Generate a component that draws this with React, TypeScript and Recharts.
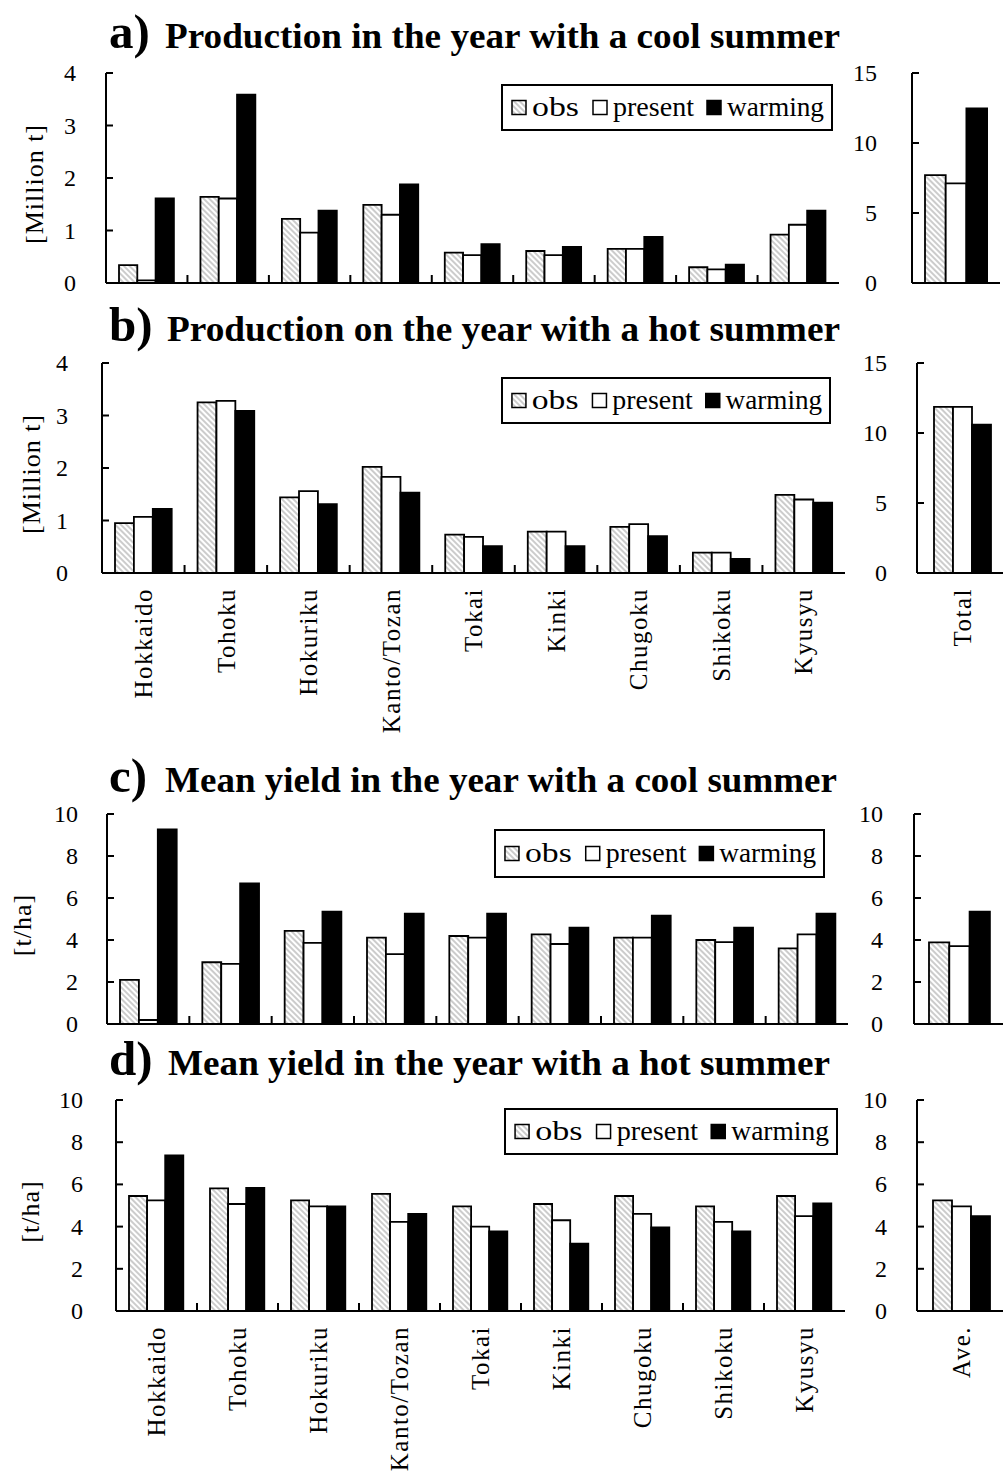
import React from "react";
import { BarChart, Bar, XAxis, YAxis, Legend } from "recharts";

const FONT = '"Liberation Serif", "Times New Roman", serif';

const regions = [
  "Hokkaido",
  "Tohoku",
  "Hokuriku",
  "Kanto/Tozan",
  "Tokai",
  "Kinki",
  "Chugoku",
  "Shikoku",
  "Kyusyu",
];

// a) production, cool summer [Million t]; side values are the national total
const prodCoolObs = [0.34, 1.64, 1.22, 1.49, 0.58, 0.61, 0.65, 0.3, 0.92];
const prodCoolPresent = [0.05, 1.61, 0.96, 1.3, 0.53, 0.53, 0.65, 0.26, 1.11];
const prodCoolWarming = [1.61, 3.59, 1.38, 1.88, 0.74, 0.69, 0.88, 0.35, 1.38];
const prodCoolTotal = [7.71, 7.12, 12.48];

// b) production, hot summer [Million t]
const prodHotObs = [0.95, 3.25, 1.44, 2.02, 0.73, 0.79, 0.88, 0.39, 1.49];
const prodHotPresent = [1.07, 3.28, 1.56, 1.83, 0.69, 0.79, 0.93, 0.39, 1.4];
const prodHotWarming = [1.22, 3.09, 1.31, 1.53, 0.51, 0.51, 0.7, 0.27, 1.34];
const prodHotTotal = [11.86, 11.86, 10.6];

// c) mean yield, cool summer [t/ha]; side values are the national average
const yieldCoolObs = [2.1, 2.94, 4.43, 4.11, 4.19, 4.27, 4.11, 4.0, 3.6];
const yieldCoolPresent = [0.19, 2.86, 3.86, 3.33, 4.11, 3.81, 4.11, 3.9, 4.27];
const yieldCoolWarming = [9.27, 6.7, 5.35, 5.25, 5.25, 4.59, 5.16, 4.59, 5.25];
const yieldCoolAve = [3.89, 3.71, 5.35];

// d) mean yield, hot summer [t/ha]
const yieldHotObs = [5.45, 5.81, 5.24, 5.55, 4.96, 5.07, 5.45, 4.96, 5.45];
const yieldHotPresent = [5.24, 5.07, 4.96, 4.22, 4.0, 4.3, 4.6, 4.22, 4.5];
const yieldHotWarming = [7.37, 5.83, 4.96, 4.6, 3.77, 3.19, 3.96, 3.77, 5.1];
const yieldHotAve = [5.24, 4.96, 4.5];

const prodTicks = [0, 1, 2, 3, 4];
const prodTotalTicks = [0, 5, 10, 15];
const yieldTicks = [0, 2, 4, 6, 8, 10];

const seriesNames = ["obs", "present", "warming"];

const toRows = (obs: number[], present: number[], warming: number[]) =>
  regions.map((region, i) => ({
    region,
    obs: obs[i],
    present: present[i],
    warming: warming[i],
  }));

const toSide = (label: string, v: number[]) => [
  { region: label, obs: v[0], present: v[1], warming: v[2] },
];

const PAD = 20;

const panels = [
  {
    letter: "a)",
    title: "Production in the year with a cool summer",
    titleY: 48,
    titleX: 165,
    titleEnd: 840,
    yLabel: "[Million t]",
    yLabelX: 34,
    rows: toRows(prodCoolObs, prodCoolPresent, prodCoolWarming),
    side: toSide("Total", prodCoolTotal),
    yMax: 4,
    yTicks: prodTicks,
    sideMax: 15,
    sideTicks: prodTotalTicks,
    plot: { l: 106, r: 839, t: 73, b: 283 },
    sidePlot: { l: 912, r: 1000 },
    yGap: 30,
    sideGap: 35,
    barSize: 18.3,
    sideBarSize: 20.7,
    legend: { x: 501, y: 84, w: 332, h: 47 },
    labels: false,
  },
  {
    letter: "b)",
    title: "Production on the year with a hot summer",
    titleY: 341,
    titleX: 167,
    titleEnd: 840,
    yLabel: "[Million t]",
    yLabelX: 31,
    rows: toRows(prodHotObs, prodHotPresent, prodHotWarming),
    side: toSide("Total", prodHotTotal),
    yMax: 4,
    yTicks: prodTicks,
    sideMax: 15,
    sideTicks: prodTotalTicks,
    plot: { l: 102, r: 845, t: 363, b: 573 },
    sidePlot: { l: 917, r: 1008 },
    yGap: 34,
    sideGap: 30,
    barSize: 18.9,
    sideBarSize: 19,
    legend: { x: 501, y: 377, w: 330, h: 47 },
    labels: true,
  },
  {
    letter: "c)",
    title: "Mean yield in the year with a cool summer",
    titleY: 792,
    titleX: 165,
    titleEnd: 837,
    yLabel: "[t/ha]",
    yLabelX: 22,
    rows: toRows(yieldCoolObs, yieldCoolPresent, yieldCoolWarming),
    side: toSide("Ave.", yieldCoolAve),
    yMax: 10,
    yTicks: yieldTicks,
    sideMax: 10,
    sideTicks: yieldTicks,
    plot: { l: 107, r: 848, t: 814, b: 1024 },
    sidePlot: { l: 914, r: 1005 },
    yGap: 29,
    sideGap: 31,
    barSize: 18.9,
    sideBarSize: 20.3,
    legend: { x: 494, y: 829, w: 331, h: 49 },
    labels: false,
  },
  {
    letter: "d)",
    title: "Mean yield in the year with a hot summer",
    titleY: 1075,
    titleX: 168,
    titleEnd: 830,
    yLabel: "[t/ha]",
    yLabelX: 30,
    rows: toRows(yieldHotObs, yieldHotPresent, yieldHotWarming),
    side: toSide("Ave.", yieldHotAve),
    yMax: 10,
    yTicks: yieldTicks,
    sideMax: 10,
    sideTicks: yieldTicks,
    plot: { l: 116, r: 845, t: 1100, b: 1311 },
    sidePlot: { l: 917, r: 1006 },
    yGap: 33,
    sideGap: 30,
    barSize: 18.1,
    sideBarSize: 19,
    legend: { x: 504, y: 1108, w: 334, h: 47 },
    labels: true,
  },
];

const fills: Record<string, string> = {
  obs: "url(#hatch)",
  present: "#ffffff",
  warming: "#000000",
};

// value ticks: label on the left, short tick pointing into the plot
const YTick = ({ y, payload, axisX, gap }: any) => (
  <g>
    <line x1={axisX} x2={axisX + 7} y1={y} y2={y} stroke="#000" strokeWidth={2} />
    <text
      x={axisX - gap}
      y={y}
      textAnchor="end"
      dominantBaseline="central"
      fontFamily={FONT}
      fontSize={24}
      fill="#000"
    >
      {payload.value}
    </text>
  </g>
);

// category ticks: separators between groups, names written bottom-to-top
const XTick = ({ x, index, payload, axisY, band, count, showLabel }: any) => (
  <g>
    {index < count - 1 && (
      <line
        x1={x + band / 2}
        x2={x + band / 2}
        y1={axisY}
        y2={axisY - 8}
        stroke="#000"
        strokeWidth={2}
      />
    )}
    {showLabel && (
      <text
        x={x}
        y={axisY + 15}
        dy="0.35em"
        transform={`rotate(-90 ${x} ${axisY + 15})`}
        textAnchor="end"
        fontFamily={FONT}
        fontSize={25}
        letterSpacing={1.5}
        fill="#000"
      >
        {payload.value}
      </text>
    )}
  </g>
);

const legendItems = [
  { key: "obs", sq: 11, tx: 31, tl: 47 },
  { key: "present", sq: 92, tx: 112, tl: 81 },
  { key: "warming", sq: 206, tx: 226, tl: 97 },
];

const LegendBox = ({ w, h }: { w: number; h: number }) => {
  const k = w / 332;
  return (
    <svg width={w} height={h} style={{ display: "block" }}>
      <rect x={1} y={1} width={w - 2} height={h - 2} fill="#fff" stroke="#000" strokeWidth={2} />
      {legendItems.map((it) => (
        <g key={it.key}>
          <rect
            x={it.sq * k}
            y={h / 2 - 7}
            width={14}
            height={14}
            fill={fills[it.key]}
            stroke="#000"
            strokeWidth={1.5}
          />
          <text
            x={it.tx * k}
            y={h / 2 + 8}
            textLength={it.tl * k}
            lengthAdjust="spacingAndGlyphs"
            fontFamily={FONT}
            fontSize={27}
            fill="#000"
          >
            {it.key}
          </text>
        </g>
      ))}
    </svg>
  );
};

const Panel = ({ cfg }: { cfg: (typeof panels)[number] }) => {
  const { plot, sidePlot } = cfg;
  const plotH = plot.b - plot.t;
  const top = plot.t - PAD;
  const bottomH = cfg.labels ? 190 : 16;
  const band = (plot.r - plot.l) / regions.length;
  const sideAxisW = 60;
  const sideW = sidePlot.r - sidePlot.l;

  const bars = seriesNames.map((name) => (
    <Bar
      key={name}
      dataKey={name}
      fill={fills[name]}
      stroke="#000"
      strokeWidth={1.8}
      isAnimationActive={false}
    />
  ));

  return (
    <>
      <svg
        width={1003}
        height={70}
        style={{ position: "absolute", left: 0, top: cfg.titleY - 48 }}
      >
        <text x={109} y={48} fontFamily={FONT} fontWeight="bold" fontSize={49} fill="#000">
          {cfg.letter}
        </text>
        <text
          x={cfg.titleX}
          y={48}
          textLength={cfg.titleEnd - cfg.titleX}
          lengthAdjust="spacingAndGlyphs"
          fontFamily={FONT}
          fontWeight="bold"
          fontSize={36}
          fill="#000"
        >
          {cfg.title}
        </text>
      </svg>

      <div style={{ position: "absolute", left: 0, top }}>
        <BarChart
          width={plot.r + 4}
          height={PAD + plotH + bottomH}
          data={cfg.rows}
          margin={{ top: PAD, right: 4, bottom: 0, left: 0 }}
          barGap={0}
          barSize={cfg.barSize}
        >
          <XAxis
            dataKey="region"
            height={bottomH}
            interval={0}
            tickSize={0}
            tickMargin={0}
            tickLine={false}
            axisLine={{ stroke: "#000", strokeWidth: 2 }}
            tick={(p: any) => (
              <XTick
                {...p}
                axisY={PAD + plotH}
                band={band}
                count={regions.length}
                showLabel={cfg.labels}
              />
            )}
          />
          <XAxis
            xAxisId="frame"
            orientation="top"
            dataKey="region"
            height={0}
            tick={false}
            tickLine={false}
            axisLine={{ stroke: "#8c8c8c", strokeWidth: 1 }}
          />
          <YAxis
            width={plot.l}
            domain={[0, cfg.yMax]}
            ticks={cfg.yTicks}
            interval={0}
            tickSize={0}
            tickLine={false}
            axisLine={{ stroke: "#000", strokeWidth: 2 }}
            tick={(p: any) => <YTick {...p} axisX={plot.l} gap={cfg.yGap} />}
            label={{
              value: cfg.yLabel,
              content: (lp: any) => {
                const vb = lp.viewBox || {};
                const cy = (vb.y ?? PAD) + (vb.height ?? plotH) / 2 + 6;
                return (
                  <text
                    x={cfg.yLabelX}
                    y={cy}
                    transform={`rotate(-90 ${cfg.yLabelX} ${cy})`}
                    textAnchor="middle"
                    dominantBaseline="central"
                    fontFamily={FONT}
                    fontSize={26}
                    letterSpacing={1}
                    fill="#000"
                  >
                    {cfg.yLabel}
                  </text>
                );
              },
            }}
          />
          <YAxis
            yAxisId="frame"
            orientation="right"
            width={0}
            domain={[0, 1]}
            tick={false}
            tickLine={false}
            axisLine={{ stroke: "#8c8c8c", strokeWidth: 1 }}
          />
          <Legend
            layout="vertical"
            align="center"
            verticalAlign="middle"
            content={() => <LegendBox w={cfg.legend.w} h={cfg.legend.h} />}
            wrapperStyle={{
              left: cfg.legend.x,
              top: cfg.legend.y - top,
              width: cfg.legend.w,
              height: cfg.legend.h,
            }}
          />
          {bars}
        </BarChart>
      </div>

      <div style={{ position: "absolute", left: sidePlot.l - sideAxisW, top }}>
        <BarChart
          width={sideAxisW + sideW + 4}
          height={PAD + plotH + bottomH}
          data={cfg.side}
          margin={{ top: PAD, right: 4, bottom: 0, left: 0 }}
          barGap={0}
          barSize={cfg.sideBarSize}
        >
          <XAxis
            dataKey="region"
            height={bottomH}
            interval={0}
            tickSize={0}
            tickMargin={0}
            tickLine={false}
            axisLine={{ stroke: "#000", strokeWidth: 2 }}
            tick={(p: any) => (
              <XTick
                {...p}
                axisY={PAD + plotH}
                band={sideW}
                count={1}
                showLabel={cfg.labels}
              />
            )}
          />
          <XAxis
            xAxisId="frame"
            orientation="top"
            dataKey="region"
            height={0}
            tick={false}
            tickLine={false}
            axisLine={{ stroke: "#000", strokeWidth: 1.2 }}
          />
          <YAxis
            width={sideAxisW}
            domain={[0, cfg.sideMax]}
            ticks={cfg.sideTicks}
            interval={0}
            tickSize={0}
            tickLine={false}
            axisLine={{ stroke: "#000", strokeWidth: 2 }}
            tick={(p: any) => <YTick {...p} axisX={sideAxisW} gap={cfg.sideGap} />}
          />
          {bars}
        </BarChart>
      </div>
    </>
  );
};

export default function App() {
  return (
    <div
      style={{
        position: "absolute",
        left: 0,
        top: 0,
        width: 1003,
        height: 1476,
        overflow: "hidden",
        background: "#fff",
      }}
    >
      <svg width={0} height={0} style={{ position: "absolute" }}>
        <defs>
          <pattern
            id="hatch"
            patternUnits="userSpaceOnUse"
            width={4}
            height={4}
            patternTransform="rotate(-45)"
          >
            <rect width={4} height={4} fill="#fff" />
            <line x1={1} y1={0} x2={1} y2={4} stroke="#9a9a9a" strokeWidth={1} />
          </pattern>
        </defs>
      </svg>
      {panels.map((cfg) => (
        <Panel key={cfg.letter} cfg={cfg} />
      ))}
    </div>
  );
}
